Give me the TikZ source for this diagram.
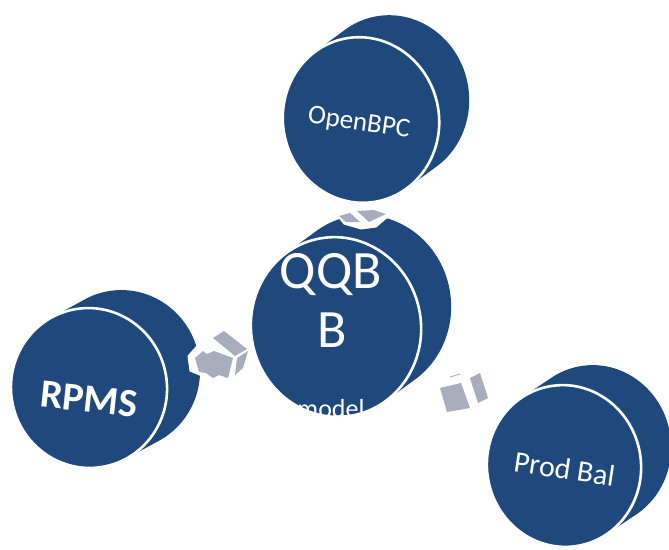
\documentclass[tikz,border=0pt]{standalone}
\usepackage{fontspec}
\setmainfont{Carlito}
\definecolor{discblue}{RGB}{31,73,125}
\definecolor{arrowgrey}{RGB}{168,173,189}
\tikzset{
  disctext/.style={text=white, inner sep=0pt, anchor=base},
  discfill/.style={fill=discblue},
  discface/.style={fill=discblue, draw=white, line width=2.6pt},
  arrowpiece/.style={fill=arrowgrey},
  halo/.style={fill=white, draw=white, line width=1pt, line join=round},
}
% cx cy dx dy rx ry rot
\newcommand{\mydisc}[7]{%
  \pgfmathsetmacro{\myax}{(#3)*cos(#7)-(#4)*sin(#7)}%
  \pgfmathsetmacro{\myay}{(#3)*sin(#7)+(#4)*cos(#7)}%
  \begin{scope}[shift={(#1,#2)}, rotate=#7]
    \fill[discfill] \foreach \i in {0,...,24}{ ({\i/24*\myax},{\i/24*\myay}) ellipse [x radius=#5, y radius=#6] };
    \filldraw[discface] (0,0) ellipse [x radius=#5, y radius=#6];
  \end{scope}
}
\begin{document}
\begin{tikzpicture}[x=1pt,y=-1pt]
\useasboundingbox (0,0) rectangle (669,549);
\fill[white] (0,0) rectangle (669,549);

% discs
\mydisc{89}{388}{33}{-18}{78}{80}{10}
\mydisc{336}{327}{30}{-22}{85}{90}{10}
\mydisc{361}{120}{30}{-22}{78}{83}{12}
\mydisc{564}{466}{30}{-20}{77}{81}{10}

% connector OpenBPC - QQBB
\fill[halo] (332,209) -- (391,208) -- (389,216) -- (376,227) -- (361,229) -- (344,224) -- cycle;
\fill[arrowpiece] (339,216) -- (350,213) -- (360,222) -- (346,222) -- cycle;
\fill[arrowpiece] (357,211) -- (374,210) -- (386,214) -- (369,222) -- cycle;

% connector RPMS - QQBB
\fill[halo] (188,356) -- (211,330) -- (253,346) -- (246,381) -- (226,386) -- (190,371) -- cycle;
\fill[arrowpiece] (213,338) -- (224,331) -- (247,349) -- (235,356) -- cycle;
\fill[arrowpiece] (195,358) -- (203,351) -- (207,354) -- (214,351) -- (233,358) -- (228,378)
  -- (219,375) -- (213,378) -- (206,373) -- (199,372) -- cycle;
\fill[arrowpiece] (237,358) -- (248,351) -- (243,368) -- (235,375) -- cycle;

% connector QQBB - Prod Bal
\fill[arrowpiece] (440,388) -- (461,383) -- (470,408) -- (447,412) -- cycle;
\fill[arrowpiece] (470,378) -- (480,373) -- (488,398) -- (478,403) -- cycle;
\draw[arrowgrey, line width=0.8pt] (450,377) -- (460,374);

% labels
\node[disctext, font=\fontsize{27}{30}\selectfont, rotate=-8] (openbpc) at (358,130) {OpenBPC};
\node[disctext, font=\fontsize{54}{60}\selectfont] (qqb) at (331,288) {QQB};
\node[disctext, font=\fontsize{54}{60}\selectfont] (qqbb) at (332,347) {B};
\node[disctext, font=\fontsize{26}{30}\selectfont] (model) at (331,417) {model};
\node[disctext, font=\bfseries\fontsize{40}{44}\selectfont, rotate=-6] (rpms) at (88,412) {RPMS};
\node[disctext, font=\fontsize{30}{34}\selectfont, rotate=-8.5] (prodbal) at (563,479) {Prod Bal};
\end{tikzpicture}
\end{document}
